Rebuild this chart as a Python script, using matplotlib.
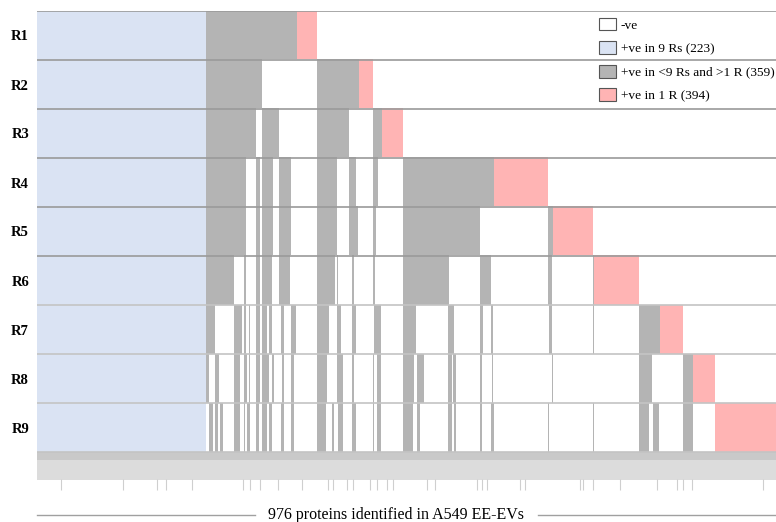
import numpy as np
import matplotlib
matplotlib.use("Agg")
import matplotlib.pyplot as plt
from matplotlib.colors import ListedColormap
from matplotlib.patches import Patch
from matplotlib.lines import Line2D

plt.rcParams['font.family'] = ['Liberation Serif', 'DejaVu Serif']

# data: 976 proteins (columns) x 9 replicates (rows)
n_proteins = 976
n_all = 223            # +ve in all 9 Rs (blue block)
row_labels = ['R1', 'R2', 'R3', 'R4', 'R5', 'R6', 'R7', 'R8', 'R9']

# +ve in <9 Rs and >1 R, protein index spans per replicate
grey_r1 = [(223, 342)]
grey_r2 = [(223, 297), (369, 424)]
grey_r3 = [(223, 288), (297, 319), (369, 411), (442, 455)]
grey_r4 = [(223, 275), (288, 294), (297, 311), (319, 334), (369, 395), (411, 420),
           (442, 449), (482, 602)]
grey_r5 = [(223, 275), (288, 294), (297, 311), (319, 334), (369, 395), (411, 423),
           (442, 447), (482, 583), (673, 680)]
grey_r6 = [(223, 259), (272, 275), (288, 294), (297, 310), (319, 333), (369, 393),
           (395, 396), (415, 418), (442, 445), (482, 543), (583, 598), (673, 678),
           (732, 734)]
grey_r7 = [(223, 235), (259, 270), (272, 275), (279, 281), (288, 294), (297, 303),
           (305, 310), (321, 325), (334, 341), (369, 384), (395, 400), (415, 420),
           (444, 453), (482, 499), (542, 549), (583, 587), (598, 601), (674, 678),
           (732, 734), (793, 820)]
grey_r8 = [(223, 227), (235, 240), (259, 268), (272, 277), (279, 281), (288, 294),
           (297, 305), (310, 312), (323, 325), (334, 338), (369, 382), (384, 385),
           (395, 403), (415, 418), (442, 444), (448, 453), (482, 496), (500, 510),
           (542, 546), (548, 552), (583, 586), (599, 600), (678, 680), (793, 810),
           (851, 864)]
grey_r9 = [(226, 232), (235, 238), (241, 245), (259, 268), (272, 274), (277, 281),
           (288, 293), (297, 303), (305, 310), (321, 325), (334, 338), (369, 381),
           (389, 391), (397, 403), (415, 420), (442, 444), (448, 453), (482, 495),
           (500, 505), (542, 546), (549, 552), (584, 586), (598, 602), (673, 675),
           (732, 734), (793, 806), (811, 819), (851, 864)]
grey_spans = [grey_r1, grey_r2, grey_r3, grey_r4, grey_r5, grey_r6, grey_r7, grey_r8, grey_r9]

# +ve in only 1 R
pink_spans = [(342, 369), (424, 442), (455, 482), (602, 673), (680, 732),
              (734, 793), (820, 851), (864, 893), (893, 976)]

# long leaf ticks under the heat map
leaf_ticks = [32, 114, 159, 170, 205, 272, 281, 294, 318, 350, 384, 391, 409, 417,
              440, 449, 462, 470, 515, 525, 580, 587, 594, 637, 644, 716, 720, 734,
              769, 818, 844, 852, 864, 958]

legend_labels = ['-ve', '+ve in 9 Rs (223)', '+ve in <9 Rs and >1 R (359)', '+ve in 1 R (394)']
colors = ['#ffffff', '#dae3f3', '#b4b4b4', '#ffb4b4']

# build category matrix: 0 -ve, 1 all, 2 several, 3 single
mat = np.zeros((len(row_labels), n_proteins), dtype=int)
mat[:, :n_all] = 1
for i in range(len(row_labels)):
    for a, b in grey_spans[i]:
        mat[i, a:b] = 2
    a, b = pink_spans[i]
    mat[i, a:b] = 3

W, H = 776, 522
fig = plt.figure(figsize=(W / 100, H / 100), dpi=100)
# axes in pixel terms: x 36.7..777, y 11..500
row_px = 49.0
top_px, bot_px = 11, 500
ax = fig.add_axes([36.7 / W, 1 - bot_px / H, 740.3 / W, (bot_px - top_px) / H])

ax.imshow(mat, cmap=ListedColormap(colors), vmin=0, vmax=3, aspect='auto',
          interpolation='nearest', extent=(0, n_proteins, len(row_labels), 0))

# row separators
for k in range(len(row_labels) + 1):
    c = '#9a9a9a' if k <= 5 else '#c4c4c4'
    ax.hlines(k, 0, n_proteins, colors=c, linewidth=1.2, zorder=3)

# bottom band (dendrogram leaves)
y0 = len(row_labels)
y1 = y0 + 8 / row_px
y2 = y1 + 20 / row_px
ax.fill_between([0, n_proteins], y0, y1, color='#c9c9c9', lw=0, zorder=2)
ax.fill_between([0, n_proteins], y1, y2, color='#dcdcdc', lw=0, zorder=2)
ax.vlines(leaf_ticks, y2 - 0.02, y2 + 10 / row_px, colors='#cfcfcf', linewidth=0.8)

ax.set_xlim(0, n_proteins)
ax.set_ylim((bot_px - top_px) / row_px, 0)
ax.set_xticks([])
ax.set_yticks(np.arange(len(row_labels)) + 0.5)
ax.set_yticklabels(row_labels, fontsize=10.5, fontweight='bold')
ax.tick_params(axis='y', length=0, pad=5.5)
for s in ax.spines.values():
    s.set_visible(False)

# legend
handles = [Patch(facecolor=c, edgecolor='#555555', linewidth=0.8) for c in colors]
fig.legend(handles, legend_labels, loc='upper left',
           bbox_to_anchor=(599 / W, 1 - 17.5 / H), frameon=False, fontsize=9.6,
           borderpad=0, borderaxespad=0, handlelength=1.27, handleheight=1.12,
           handletextpad=0.35, labelspacing=0.72)

# x label with flanking lines
fig.text(396 / W, 1 - 515 / H, '976 proteins identified in A549 EE-EVs',
         ha='center', va='center', fontsize=11.5)
fig.add_artist(Line2D([36.7 / W, 255 / W], [1 - 515 / H] * 2, color='#a0a0a0', lw=1))
fig.add_artist(Line2D([538 / W, 1.0], [1 - 515 / H] * 2, color='#a0a0a0', lw=1))

fig.savefig('out.png', dpi=100)
